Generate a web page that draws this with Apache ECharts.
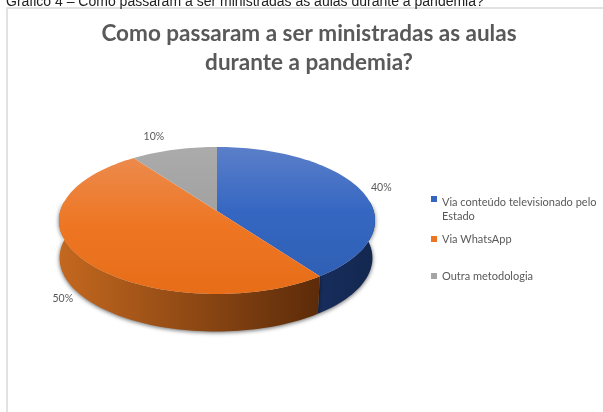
<!DOCTYPE html>
<html>
<head>
<meta charset="utf-8">
<style>html,body{margin:0;padding:0;background:#fff}#c{width:603px;height:412px}</style>
<script src="https://cdn.jsdelivr.net/npm/echarts@6/dist/echarts.min.js"></script>
</head>
<body>
<div id="c"></div>
<script>
const categories = ['Via conteúdo televisionado pelo\nEstado', 'Via WhatsApp', 'Outra metodologia'];
const shares = [40, 50, 10];
const caption = 'Gráfico 4 – Como passaram a ser ministradas as aulas durante a pandemia?';
const chartTitle = 'Como passaram a ser ministradas as aulas\ndurante a pandemia?';

// Tilted disc: a circle seen in perspective, plus a downward extrusion.
const disc = { cx: 217, cy: 211, a: 156.7, b: 72.3, k: 0.129, depth: 37.5, baseShift: -1, baseScale: 0.99 };
const legendColors = ['#3565BE', '#ED7420', '#A5A5A5'];
const topFills = [
  ['#5B7FC9', '#3567C2', '#3060B5'],
  ['#EC8A4C', '#EE7623', '#E76D18'],
  ['#ABABAB', '#A6A6A6', '#A2A2A2']
];
const sideFills = [
  ['#172D5C', '#13274F'],
  ['#C4681F', '#5C2B09'],
  ['#6E6E6E', '#6E6E6E']
];
const labelOffsets = [[21, -2], [-17, 42], [-20, -13]];
const legendTops = [195, 232, 269];

function project(pct, isBase) {
  const t = pct / 100 * Math.PI * 2;
  const u = Math.sin(t), v = -Math.cos(t);
  const d = 1 - disc.k * v;
  const x = disc.a * u / d, y = disc.b * v / d;
  return isBase
    ? [disc.cx + disc.baseShift + x * disc.baseScale, disc.cy + y + disc.depth]
    : [disc.cx + x, disc.cy + y];
}

function arc(from, to, isBase) {
  const pts = [];
  const n = Math.max(2, Math.ceil((to - from) * 2));
  for (let i = 0; i <= n; i++) pts.push(project(from + (to - from) * i / n, isBase));
  return pts;
}

function grad(colors, vertical) {
  const stops = colors.map((c, i) => ({ offset: i / (colors.length - 1), color: c }));
  return { type: 'linear', x: 0, y: 0, x2: vertical ? 0 : 1, y2: vertical ? 1 : 0, colorStops: stops };
}

function renderSlice(params, api) {
  const idx = params.seriesIndex;
  const start = api.value(0), share = api.value(1);
  const end = start + share;
  const children = [];

  // Only the front of the rim can show below the top face.
  const from = Math.max(start, 23), to = Math.min(end, 77);
  if (to > from) {
    const upper = arc(from, to, false), lower = arc(from, to, true).reverse();
    children.push({
      type: 'polygon', z2: 1,
      shape: { points: upper.concat(lower) },
      style: {
        fill: grad(sideFills[idx], false),
        shadowBlur: 4, shadowColor: 'rgba(0,0,0,0.6)', shadowOffsetY: 1
      }
    });
  }

  children.push({
    type: 'polygon', z2: 5,
    shape: { points: [[disc.cx, disc.cy]].concat(arc(start, end, false)) },
    style: { fill: grad(topFills[idx], true) }
  });

  const mid = project(start + share / 2, false), off = labelOffsets[idx];
  children.push({
    type: 'text', z2: 6,
    x: mid[0] + off[0], y: mid[1] + off[1],
    style: {
      text: share + '%', fill: '#595959',
      font: '10.5px Lato, sans-serif', align: 'center', verticalAlign: 'middle'
    }
  });
  return { type: 'group', children };
}

let running = 0;
const series = categories.map((name, i) => {
  const row = [running, shares[i]];
  running += shares[i];
  return {
    type: 'custom', name, coordinateSystem: 'none',
    itemStyle: { color: legendColors[i] },
    renderItem: renderSlice, data: [row], silent: true, animation: false
  };
});

const chart = echarts.init(document.getElementById('c'), null, { renderer: 'canvas' });
chart.setOption({
  animation: false,
  backgroundColor: '#fff',
  graphic: [{
    type: 'rect', z: -1,
    shape: { x: 7, y: 8, width: 620, height: 430 },
    style: { fill: '#fff', stroke: '#D9D9D9', lineWidth: 1.5 }
  }],
  title: [
    { text: caption, left: 1, top: -10,
      textStyle: { fontFamily: 'Liberation Sans', fontSize: 14, fontWeight: 'normal', color: '#222' } },
    { text: chartTitle, left: 304, top: 14, textAlign: 'center',
      textStyle: { fontFamily: 'Lato', fontSize: 22.5, fontWeight: 'bold', color: '#595959', lineHeight: 29 } }
  ],
  legend: categories.map((name, i) => ({
    data: [{ name, icon: i === 0 ? 'path://M0 0H6V6H0Z M0 26L0 26Z' : 'rect' }],
    left: 431, top: legendTops[i], padding: 0,
    itemWidth: 6, itemHeight: i === 0 ? 26 : 6,
    selectedMode: false,
    textStyle: { fontFamily: 'Lato', fontSize: 11, color: '#595959', lineHeight: 14 }
  })),
  series
});
</script>
</body>
</html>
